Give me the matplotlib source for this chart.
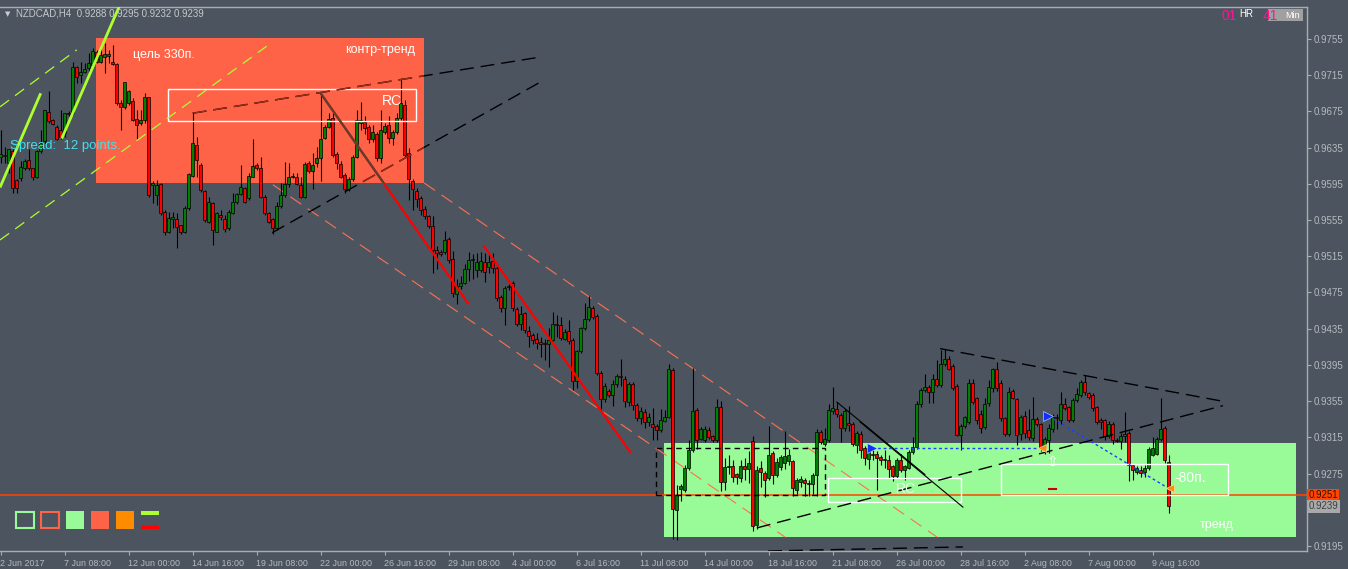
import matplotlib
matplotlib.use("Agg")
import numpy as np
import matplotlib.pyplot as plt
from matplotlib.patches import Rectangle
from matplotlib.transforms import blended_transform_factory

W, H = 1348, 569
BG = "#4c555f"
FG = "#b4b9be"
FONT = ["Liberation Sans", "DejaVu Sans"]

# NZDCAD H4 candles, prices in pips (1e-4)
opens = [
    9625, 9626, 9618, 9631, 9599, 9601, 9612, 9621, 9612, 9603, 9631, 9642, 9674, 9666, 9658, 9655,
    9651, 9673, 9673, 9724, 9715, 9718, 9723, 9726, 9741, 9730, 9735, 9736, 9730, 9727, 9684, 9680,
    9684, 9686, 9667, 9662, 9666, 9691, 9594, 9583, 9595, 9564, 9542, 9556, 9556, 9549, 9542, 9568,
    9604, 9638, 9616, 9587, 9553, 9574, 9542, 9561, 9556, 9546, 9563, 9575, 9584, 9590, 9579, 9603,
    9616, 9613, 9581, 9563, 9556, 9546, 9570, 9583, 9595, 9603, 9602, 9594, 9581, 9618, 9609, 9618,
    9624, 9646, 9658, 9668, 9628, 9617, 9605, 9589, 9600, 9625, 9662, 9663, 9658, 9644, 9650, 9624,
    9652, 9660, 9646, 9652, 9668, 9682, 9629, 9598, 9587, 9579, 9567, 9559, 9548, 9522, 9520, 9520,
    9534, 9512, 9473, 9482, 9486, 9501, 9511, 9500, 9500, 9509, 9503, 9510, 9502, 9470, 9458, 9481,
    9485, 9457, 9440, 9452, 9433, 9428, 9424, 9420, 9419, 9418, 9423, 9440, 9439, 9424, 9432, 9422,
    9377, 9410, 9436, 9446, 9458, 9449, 9386, 9357, 9366, 9362, 9374, 9383, 9380, 9354, 9374, 9351,
    9336, 9343, 9332, 9330, 9327, 9323, 9333, 9338, 9389, 9235, 9258, 9257, 9281, 9301, 9345, 9313,
    9312, 9323, 9316, 9312, 9348, 9266, 9282, 9283, 9274, 9270, 9283, 9280, 9311, 9218, 9281, 9276,
    9270, 9298, 9273, 9282, 9287, 9289, 9289, 9257, 9266, 9268, 9265, 9264, 9273, 9321, 9308, 9312,
    9344, 9346, 9340, 9325, 9331, 9330, 9307, 9319, 9303, 9291, 9297, 9297, 9293, 9290, 9290, 9283,
    9272, 9290, 9279, 9281, 9299, 9304, 9352, 9367, 9371, 9365, 9379, 9373, 9396, 9402, 9394, 9372,
    9318, 9327, 9332, 9375, 9358, 9341, 9326, 9353, 9369, 9391, 9375, 9336, 9319, 9366, 9357, 9319,
    9339, 9323, 9314, 9335, 9330, 9303, 9312, 9324, 9337, 9334, 9352, 9348, 9334, 9356, 9362, 9376,
    9364, 9362, 9348, 9334, 9334, 9316, 9330, 9312, 9311, 9316, 9320, 9284, 9277, 9279, 9277, 9281,
    9296, 9297, 9313, 9325, 9288,
]
highs = [
    9655, 9636, 9634, 9633, 9600, 9620, 9622, 9633, 9613, 9632, 9655, 9677, 9697, 9667, 9660, 9677,
    9673, 9675, 9730, 9725, 9730, 9728, 9740, 9745, 9743, 9748, 9750, 9743, 9748, 9728, 9688, 9708,
    9699, 9690, 9677, 9677, 9695, 9691, 9598, 9599, 9596, 9566, 9564, 9564, 9563, 9550, 9570, 9607,
    9674, 9647, 9618, 9588, 9581, 9575, 9564, 9566, 9561, 9566, 9585, 9585, 9616, 9592, 9607, 9644,
    9618, 9625, 9583, 9564, 9557, 9575, 9596, 9619, 9618, 9607, 9607, 9603, 9619, 9620, 9629, 9636,
    9695, 9660, 9673, 9673, 9630, 9620, 9607, 9602, 9627, 9677, 9685, 9670, 9660, 9660, 9652, 9677,
    9662, 9670, 9655, 9673, 9712, 9688, 9635, 9600, 9590, 9582, 9570, 9561, 9560, 9526, 9522, 9543,
    9536, 9521, 9490, 9493, 9506, 9520, 9518, 9519, 9520, 9519, 9518, 9519, 9506, 9472, 9482, 9484,
    9488, 9459, 9460, 9453, 9438, 9430, 9430, 9426, 9424, 9436, 9454, 9450, 9448, 9435, 9445, 9425,
    9412, 9437, 9463, 9471, 9460, 9451, 9388, 9375, 9368, 9378, 9385, 9401, 9383, 9376, 9376, 9353,
    9348, 9346, 9342, 9347, 9330, 9346, 9345, 9396, 9392, 9262, 9263, 9285, 9312, 9392, 9347, 9326,
    9327, 9326, 9318, 9357, 9355, 9292, 9296, 9290, 9276, 9290, 9292, 9300, 9316, 9283, 9289, 9278,
    9327, 9300, 9292, 9296, 9322, 9302, 9290, 9270, 9272, 9270, 9268, 9276, 9324, 9323, 9325, 9352,
    9371, 9354, 9342, 9346, 9350, 9332, 9322, 9322, 9305, 9305, 9303, 9300, 9296, 9301, 9295, 9285,
    9292, 9297, 9285, 9301, 9315, 9355, 9370, 9385, 9373, 9385, 9400, 9411, 9413, 9405, 9396, 9374,
    9330, 9339, 9380, 9380, 9360, 9345, 9358, 9378, 9392, 9398, 9378, 9338, 9371, 9368, 9359, 9340,
    9344, 9346, 9360, 9337, 9331, 9315, 9330, 9341, 9341, 9365, 9359, 9350, 9359, 9370, 9378, 9384,
    9365, 9364, 9350, 9336, 9335, 9333, 9332, 9314, 9320, 9343, 9322, 9286, 9283, 9283, 9284, 9304,
    9315, 9315, 9359, 9328, 9295,
]
lows = [
    9618, 9618, 9607, 9585, 9585, 9598, 9610, 9610, 9599, 9601, 9629, 9640, 9662, 9660, 9643, 9644,
    9647, 9670, 9671, 9706, 9706, 9717, 9717, 9724, 9728, 9728, 9717, 9728, 9726, 9682, 9655, 9678,
    9682, 9664, 9645, 9660, 9662, 9581, 9574, 9572, 9561, 9539, 9541, 9546, 9524, 9540, 9541, 9566,
    9603, 9603, 9586, 9553, 9552, 9528, 9542, 9555, 9542, 9544, 9562, 9573, 9583, 9574, 9577, 9603,
    9610, 9579, 9561, 9552, 9540, 9544, 9568, 9581, 9592, 9601, 9594, 9579, 9579, 9607, 9589, 9614,
    9598, 9644, 9657, 9625, 9611, 9601, 9585, 9587, 9598, 9623, 9655, 9650, 9640, 9641, 9620, 9618,
    9650, 9640, 9638, 9650, 9665, 9625, 9577, 9566, 9569, 9561, 9556, 9546, 9497, 9501, 9515, 9518,
    9508, 9470, 9462, 9479, 9484, 9488, 9490, 9492, 9498, 9487, 9496, 9497, 9466, 9454, 9439, 9478,
    9455, 9438, 9434, 9430, 9415, 9418, 9413, 9404, 9400, 9393, 9421, 9426, 9423, 9422, 9418, 9367,
    9370, 9408, 9434, 9444, 9446, 9384, 9346, 9354, 9360, 9350, 9371, 9372, 9349, 9350, 9345, 9333,
    9330, 9325, 9328, 9312, 9312, 9321, 9332, 9336, 9203, 9202, 9245, 9255, 9279, 9299, 9302, 9312,
    9310, 9313, 9310, 9310, 9256, 9257, 9275, 9266, 9264, 9266, 9268, 9265, 9212, 9214, 9260, 9249,
    9268, 9264, 9271, 9279, 9280, 9285, 9250, 9252, 9260, 9250, 9250, 9252, 9250, 9308, 9305, 9310,
    9341, 9338, 9310, 9322, 9322, 9306, 9298, 9292, 9285, 9280, 9290, 9257, 9285, 9281, 9270, 9267,
    9270, 9277, 9268, 9280, 9297, 9302, 9348, 9365, 9353, 9353, 9371, 9371, 9394, 9389, 9367, 9316,
    9301, 9325, 9330, 9352, 9330, 9320, 9324, 9350, 9365, 9366, 9333, 9316, 9317, 9357, 9307, 9312,
    9314, 9312, 9311, 9327, 9300, 9297, 9298, 9321, 9324, 9330, 9345, 9332, 9332, 9354, 9360, 9362,
    9357, 9344, 9330, 9324, 9312, 9314, 9308, 9310, 9302, 9310, 9267, 9268, 9274, 9271, 9271, 9279,
    9294, 9295, 9311, 9287, 9232,
]
closes = [
    9628, 9627, 9633, 9590, 9590, 9614, 9620, 9612, 9603, 9631, 9640, 9677, 9664, 9661, 9645, 9647,
    9673, 9672, 9724, 9713, 9719, 9722, 9728, 9742, 9730, 9737, 9738, 9738, 9727, 9684, 9680, 9707,
    9697, 9666, 9660, 9666, 9691, 9583, 9596, 9594, 9563, 9542, 9557, 9558, 9547, 9542, 9568, 9606,
    9640, 9621, 9588, 9555, 9575, 9544, 9563, 9558, 9545, 9564, 9575, 9584, 9592, 9575, 9604, 9615,
    9612, 9581, 9563, 9553, 9546, 9570, 9583, 9595, 9603, 9604, 9595, 9581, 9617, 9609, 9616, 9624,
    9645, 9658, 9667, 9627, 9618, 9603, 9589, 9600, 9625, 9665, 9665, 9657, 9644, 9652, 9624, 9655,
    9659, 9646, 9652, 9668, 9684, 9627, 9600, 9589, 9578, 9566, 9559, 9548, 9522, 9519, 9518, 9533,
    9511, 9474, 9482, 9485, 9501, 9511, 9511, 9509, 9510, 9498, 9509, 9502, 9469, 9458, 9480, 9482,
    9458, 9440, 9451, 9434, 9427, 9422, 9419, 9418, 9418, 9422, 9440, 9439, 9425, 9431, 9421, 9377,
    9410, 9436, 9446, 9459, 9448, 9386, 9357, 9372, 9362, 9374, 9383, 9382, 9355, 9374, 9351, 9336,
    9344, 9332, 9337, 9326, 9323, 9334, 9338, 9390, 9236, 9251, 9261, 9281, 9301, 9344, 9312, 9324,
    9324, 9315, 9312, 9349, 9266, 9282, 9283, 9271, 9271, 9283, 9280, 9287, 9217, 9279, 9277, 9268,
    9296, 9273, 9288, 9293, 9294, 9295, 9259, 9268, 9269, 9265, 9264, 9273, 9321, 9310, 9313, 9345,
    9347, 9341, 9325, 9344, 9329, 9308, 9320, 9301, 9292, 9303, 9295, 9292, 9290, 9291, 9280, 9272,
    9290, 9279, 9283, 9299, 9304, 9352, 9367, 9371, 9365, 9379, 9373, 9396, 9402, 9391, 9369, 9318,
    9328, 9337, 9375, 9354, 9334, 9325, 9352, 9371, 9390, 9369, 9336, 9319, 9365, 9358, 9318, 9337,
    9320, 9315, 9335, 9330, 9303, 9313, 9325, 9338, 9336, 9352, 9347, 9334, 9356, 9363, 9376, 9365,
    9360, 9347, 9332, 9332, 9316, 9330, 9312, 9311, 9316, 9319, 9284, 9279, 9281, 9276, 9281, 9302,
    9303, 9313, 9324, 9290, 9239,
]

time_labels = [
    "2 Jun 2017", "7 Jun 08:00", "12 Jun 00:00", "14 Jun 16:00", "19 Jun 08:00",
    "22 Jun 00:00", "26 Jun 16:00", "29 Jun 08:00", "4 Jul 00:00", "6 Jul 16:00",
    "11 Jul 08:00", "14 Jul 00:00", "18 Jul 16:00", "21 Jul 08:00", "26 Jul 00:00",
    "28 Jul 16:00", "2 Aug 08:00", "7 Aug 00:00", "9 Aug 16:00",
]
bars_per_label = 16
price_ticks = [0.9195, 0.9235, 0.9275, 0.9315, 0.9355, 0.9395, 0.9435, 0.9475,
               0.9515, 0.9555, 0.9595, 0.9635, 0.9675, 0.9715, 0.9755]
hidden_tick = 0.9235  # covered by the price tags

# chart objects: (bar from, bar to, price low, price high)
target_zone = (23.875, 105.875, 0.9596, 0.9756)
trend_zone = (165.9, 323.9, 0.9205, 0.9309)
rc_box_top = (41.9, 103.9, 0.9664, 0.9700)
rc_box_low = (206.9, 240.1, 0.9244, 0.9270)
box_80 = (250.05, 306.9, 0.9251, 0.9286)
range_box = (163.9, 206.1, 0.9251, 0.9303)
level_price = 0.9251
last_price = 0.9239

# trend lines: [(bar, price), (bar, price)]
lime_fast_1 = [(-0.125, 0.9591), (10.05, 0.9695)]
lime_fast_2 = [(15.3, 0.9645), (29.7, 0.9791)]
lime_chan_1 = [(-0.125, 0.9680), (19.05, 0.9743)]
lime_chan_2 = [(-0.125, 0.9533), (66.55, 0.9747)]
res_line_1 = [(48.05, 0.9673), (134.9, 0.9735)]
res_line_2 = [(67.9, 0.9541), (135.6, 0.9709)]
down_line_1 = [(80.05, 0.9695), (116.9, 0.9463)]
down_line_2 = [(120.9, 0.9526), (157.4, 0.9299)]
chan_upper = [(105.9, 0.9596), (234.1, 0.9205)]
chan_lower = [(68.1, 0.9594), (196.1, 0.9205)]
tri_top = [(234.9, 0.9413), (305.4, 0.9355)]
tri_bottom = [(189.1, 0.9215), (305.6, 0.9350)]
short_line_a = [(209.1, 0.9354), (231.1, 0.9274)]
short_line_b = [(214.9, 0.9332), (240.6, 0.9238)]
floor_line = [(191.9, 0.91895), (240.6, 0.9194)]
blue_flat = [(217.9, 0.9303), (259.9, 0.9303)]
blue_diag = [(261.9, 0.9339), (291.9, 0.9259)]


def fig_xy(x, y):
    return x / W, 1 - y / H


def add_box(ax, box, **kw):
    b0, b1, p0, p1 = box
    r = Rectangle((b0, p0), b1 - b0, p1 - p0, **kw)
    ax.add_patch(r)
    return r


def add_line(ax, pts, **kw):
    return ax.plot([p[0] for p in pts], [p[1] for p in pts], **kw)[0]


o = np.array(opens) / 1e4
h = np.array(highs) / 1e4
l = np.array(lows) / 1e4
c = np.array(closes) / 1e4
x = np.arange(len(o))

fig = plt.figure(figsize=(W / 100, H / 100), dpi=100, facecolor=BG)
ax = fig.add_axes([0, (H - 551) / H, 1307 / W, (551 - 7) / H], facecolor=BG)
ax.set_xlim(-0.125, 326.625)
ax.set_ylim(0.91895, 0.97903)

# zones
red_zone = add_box(ax, target_zone, facecolor="#ff6347", edgecolor="none", zorder=1)
add_box(ax, trend_zone, facecolor="#98fb98", edgecolor="none", zorder=1)

# candles
up = c >= o
ax.vlines(x, l, h, color="black", lw=0.8, zorder=3)
body_lo = np.minimum(o, c)
body_h = np.maximum(np.abs(c - o), 0.00008)
ax.bar(x[up], body_h[up], bottom=body_lo[up], width=0.75, color="#008000",
       edgecolor="black", linewidth=0.5, zorder=3.2)
ax.bar(x[~up], body_h[~up], bottom=body_lo[~up], width=0.75, color="#ff0000",
       edgecolor="black", linewidth=0.5, zorder=3.2)

# outlined boxes
for b in (rc_box_top, rc_box_low, box_80):
    add_box(ax, b, facecolor="none", edgecolor="white", lw=1, zorder=4)
add_box(ax, range_box, facecolor="none", edgecolor="black", lw=1,
        linestyle=(0, (4, 3)), zorder=4)

ax.axhline(level_price, color="#ff4500", lw=1.1, zorder=2.5)

# lime lines
for pts in (lime_fast_1, lime_fast_2):
    add_line(ax, pts, color="#adff2f", lw=2, zorder=4, solid_capstyle="butt")
for pts in (lime_chan_1, lime_chan_2):
    add_line(ax, pts, color="#adff2f", lw=0.9, ls=(0, (9, 6)), zorder=4)

# resistance lines: black outside the red zone, dark red inside
for pts in (res_line_1, res_line_2):
    add_line(ax, pts, color="black", lw=1, ls=(0, (10, 5)), zorder=4)
    inner = add_line(ax, pts, color="#9c2e1c", lw=1, ls=(0, (10, 5)), zorder=4.1)
    inner.set_clip_path(red_zone)

add_line(ax, down_line_1, color="#ff0000", lw=1.6, zorder=4)
inner = add_line(ax, down_line_1, color="#5a4030", lw=1.6, zorder=4.1)
inner.set_clip_path(red_zone)
add_line(ax, down_line_2, color="#ff0000", lw=1.6, zorder=4)

for pts in (chan_upper, chan_lower):
    add_line(ax, pts, color="#ff7050", lw=0.8, ls=(0, (12, 7)), zorder=2.8)

for pts in (tri_top, tri_bottom, floor_line):
    add_line(ax, pts, color="black", lw=1, ls=(0, (10, 5)), zorder=4)
for pts in (short_line_a, short_line_b):
    add_line(ax, pts, color="black", lw=0.8, zorder=4)

for pts in (blue_flat, blue_diag):
    add_line(ax, pts, color="#1e3cff", lw=1, ls=(0, (2, 2)), zorder=4.5)
    ax.plot(pts[0][0], pts[0][1], marker=">", ms=7, mfc="#1030ff", mec="#dde4ff",
            mew=0.4, zorder=5)
    ax.plot(pts[1][0] + 0.5, pts[1][1], marker="<", ms=6, mfc="#f09010",
            mec="#ffe0a0", mew=0.5, zorder=5)

ax.text(263, 0.9288, "\u21e7", color="white", fontsize=10, ha="center", va="center",
        family="DejaVu Sans", zorder=5)
ax.plot([262.1, 263.9], [0.9258, 0.9258], color="#cc0000", lw=1.5, zorder=5)

# texts
ax.text(33.1, 0.9737, "цель 330п.", color="white", fontsize=9, va="center",
        family=FONT, zorder=6)
ax.text(103.6, 0.9743, "контр-тренд", color="white", fontsize=9, va="center",
        ha="right", family=FONT, zorder=6)
ax.text(100.3, 0.96865, "RC", color="white", fontsize=10, va="center", ha="right",
        family=FONT, zorder=6)
ax.text(223.9, 0.9258, "RC", color="#eaffea", fontsize=10, va="center",
        family=FONT, zorder=6)
ax.text(293.4, 0.9270, "-80п.", color="white", fontsize=10, va="center",
        family=FONT, zorder=6)
ax.text(299.9, 0.9218, "тренд", color="white", fontsize=9, va="center",
        family=FONT, zorder=6)

# axes styling
ax.spines["left"].set_visible(False)
for side in ("top", "right", "bottom"):
    ax.spines[side].set_color("#a8adb2")
    ax.spines[side].set_linewidth(1)
ax.yaxis.tick_right()
ax.set_yticks(price_ticks)
ax.set_yticklabels(["" if p == hidden_tick else f"{p:.4f}" for p in price_ticks])
ax.set_xticks(np.arange(len(time_labels)) * bars_per_label)
ax.set_xticklabels(time_labels)
ax.tick_params(axis="y", colors="#a8adb2", labelcolor=FG, length=3, pad=2,
               labelsize=7, width=0.8)
ax.tick_params(axis="x", colors="#a8adb2", labelcolor=FG, length=3, pad=2.5,
               labelsize=6.4, width=0.8)
for lbl in ax.get_xticklabels():
    lbl.set_ha("left")
    lbl.set_family(FONT)
for lbl in ax.get_yticklabels():
    lbl.set_family(FONT)

tr = blended_transform_factory(ax.transAxes, ax.transData)
ax.text(1.001, level_price, f"{level_price:.4f}", transform=tr, fontsize=7,
        color="#3a1000", va="center", ha="left", family=FONT, clip_on=False, zorder=10,
        bbox=dict(boxstyle="square,pad=0.15", fc="#ff4500", ec="none"))
ax.text(1.001, last_price, f"{last_price:.4f}", transform=tr, fontsize=7,
        color="#404040", va="center", ha="left", family=FONT, clip_on=False, zorder=10,
        bbox=dict(boxstyle="square,pad=0.15", fc="#a9a9a9", ec="none"))

# header and overlay labels
fig.text(*fig_xy(5, 14), "\u25bc", color="#c8ccd0", fontsize=5, va="center")
fig.text(*fig_xy(16, 14), "NZDCAD,H4  0.9288 0.9295 0.9232 0.9239", color="#c4c8cc",
         fontsize=7, va="center", family=FONT)
fig.text(*fig_xy(10, 146), "Spread:  12 points.", color="#40e0f0", fontsize=9.5,
         va="center", family=FONT)
fig.add_artist(Rectangle(fig_xy(1268, 21), 35 / W, 12 / H, transform=fig.transFigure,
                         facecolor="#a0a0a0", edgecolor="none"))
fig.text(*fig_xy(1222, 16), "01", color="#ff1493", fontsize=10, va="center", family=FONT)
fig.text(*fig_xy(1239, 14), "HR", color="white", fontsize=7, va="center", family=FONT)
fig.text(*fig_xy(1263, 16), "41", color="#ff1493", fontsize=10, va="center", family=FONT)
fig.text(*fig_xy(1285, 15), "Min", color="white", fontsize=6.5, va="center", family=FONT)

# colour legend squares
legend_fills = [(16.3, "none", "#98fb98"), (41, "none", "#ff6347"),
                (65.7, "#98fb98", "none"), (91, "#ff6347", "none"), (116, "#ff8c00", "none")]
for left, fc, ec in legend_fills:
    if fc == "none":
        fig.add_artist(Rectangle(fig_xy(left, 528), 17.5 / W, 16.5 / H,
                                 transform=fig.transFigure, facecolor="none",
                                 edgecolor=ec, lw=1.5))
    else:
        fig.add_artist(Rectangle(fig_xy(left, 529), 18 / W, 18.3 / H,
                                 transform=fig.transFigure, facecolor=fc,
                                 edgecolor="none"))
fig.add_artist(Rectangle(fig_xy(141, 514.7), 18 / W, 3.7 / H, transform=fig.transFigure,
                         facecolor="#adff2f", edgecolor="none"))
fig.add_artist(Rectangle(fig_xy(141, 529.3), 18 / W, 3.6 / H, transform=fig.transFigure,
                         facecolor="#ff0000", edgecolor="none"))

fig.savefig("out.png", dpi=100, facecolor=BG)
